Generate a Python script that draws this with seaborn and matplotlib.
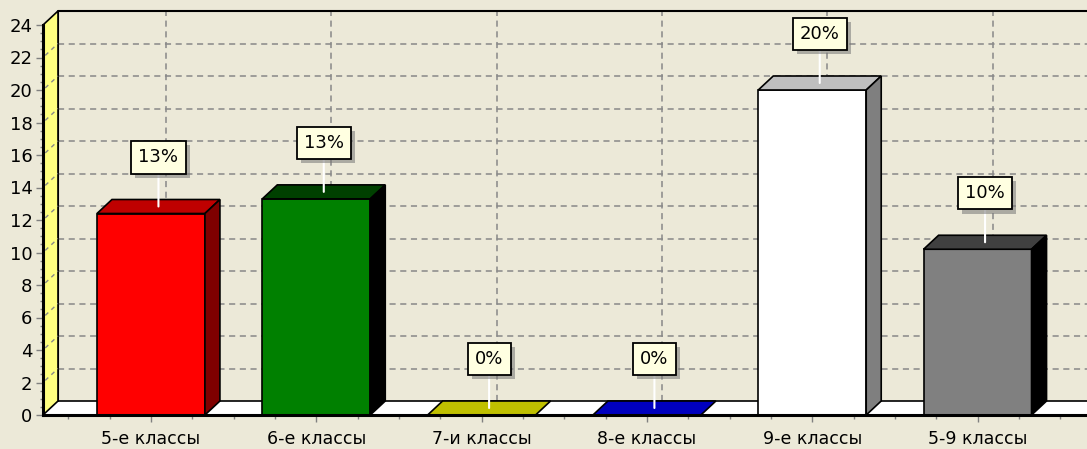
import numpy as np
import matplotlib
matplotlib.use("Agg")
import matplotlib.pyplot as plt
import matplotlib.patheffects as pe
from matplotlib.patches import Polygon, Rectangle
from matplotlib.ticker import MultipleLocator
from matplotlib.colors import to_rgb
import seaborn as sns

# ---- data ----
categories = ["5-е классы", "6-е классы", "7-и классы", "8-е классы", "9-е классы", "5-9 классы"]
values = [12.4, 13.3, 0, 0, 20.0, 10.2]
value_labels = ["13%", "13%", "0%", "0%", "20%", "10%"]
front_colors = ["#FF0000", "#008000", "#FFFF40", "#0000FF", "#FFFFFF", "#808080"]
y_ticks = list(range(0, 25, 2))

BG = "#ECE9D8"
W, H, DPI = 1087, 449, 100

sns.set_style("white")
plt.rcParams["font.family"] = ["DejaVu Sans"]
plt.rcParams["text.color"] = "black"
plt.rcParams["xtick.labelcolor"] = "black"
plt.rcParams["ytick.labelcolor"] = "black"

fig = plt.figure(figsize=(W / DPI, H / DPI), dpi=DPI, facecolor=BG)
ax = fig.add_axes([43 / W, 34 / H, 1044 / W, 390 / H])
ax.set_facecolor(BG)

sns.barplot(x=categories, y=values, hue=categories, palette=front_colors,
            width=0.653, saturation=1, legend=False, ax=ax,
            edgecolor="black", linewidth=1.2, zorder=3)
bars = sorted([p for p in ax.patches if isinstance(p, Rectangle)], key=lambda p: p.get_x())

XMIN, XMAX = -0.653, 5.662
YMIN, YMAX = 0, 24
ax.set_xlim(XMIN, XMAX)
ax.set_ylim(YMIN, YMAX)

# depth in data units (15 px horizontally, 14 px vertically)
px_x = 1044 / (XMAX - XMIN)
px_y = 390 / (YMAX - YMIN)
dx = 15 / px_x
dy = 14 / px_y

grid_kw = dict(color="#888888", linestyle=(0, (4, 3)), linewidth=1.1, zorder=1, clip_on=False)

# back-wall horizontal grid lines
for v in y_ticks[1:-1]:
    ax.plot([XMIN + dx, XMAX], [v + dy, v + dy], **grid_kw)
# back-wall vertical grid lines
for i in range(len(categories)):
    ax.plot([i + dx, i + dx], [dy, YMAX + dy], **grid_kw)

# back wall outline
ax.plot([XMIN + dx, XMIN + dx, XMAX + 1], [dy, YMAX + dy, YMAX + dy],
        color="black", linewidth=1.5, zorder=1.6, clip_on=False)

# floor
floor = Polygon([(XMIN, 0), (XMAX + 1, 0), (XMAX + 1 + dx, dy), (XMIN + dx, dy)],
                closed=True, facecolor="white", edgecolor="none", zorder=1.5, clip_on=False)
ax.add_patch(floor)
ax.plot([XMIN + dx, XMAX + 1], [dy, dy], color="black", linewidth=1.2, zorder=1.55, clip_on=False)

# yellow side wall
side_wall = Polygon([(XMIN, 0), (XMIN, YMAX), (XMIN + dx, YMAX + dy), (XMIN + dx, dy)],
                    closed=True, facecolor="#FFFF80", edgecolor="black", linewidth=1.2,
                    zorder=2, clip_on=False)
ax.add_patch(side_wall)
for v in y_ticks[1:-1]:
    ax.plot([XMIN + 0.15 * dx, XMIN + dx], [v + 0.15 * dy, v + dy],
            color="#888888", linestyle=(0, (3, 3)), linewidth=1.0, zorder=2.1, clip_on=False)


def shade(c, amt):
    r, g, b = to_rgb(c)
    return (max(r - amt, 0), max(g - amt, 0), max(b - amt, 0))


for p, col, lab in zip(bars, front_colors, value_labels):
    x0, w, h = p.get_x(), p.get_width(), p.get_height()
    top = Polygon([(x0, h), (x0 + w, h), (x0 + w + dx, h + dy), (x0 + dx, h + dy)],
                  closed=True, facecolor=shade(col, 64 / 255), edgecolor="black",
                  linewidth=1.2, zorder=3, clip_on=False)
    ax.add_patch(top)
    if h > 0:
        side = Polygon([(x0 + w, 0), (x0 + w + dx, dy), (x0 + w + dx, h + dy), (x0 + w, h)],
                       closed=True, facecolor=shade(col, 128 / 255), edgecolor="black",
                       linewidth=1.2, zorder=3, clip_on=False)
        ax.add_patch(side)
    cx = x0 + w / 2 + dx / 2
    t = ax.annotate(lab, xy=(cx, h + dy / 2), xytext=(0, 49), textcoords="offset pixels",
                    ha="center", va="center", fontsize=13, color="black", zorder=6,
                    bbox=dict(boxstyle="square,pad=0.4", fc="#FFFFE1", ec="black", lw=1.3),
                    arrowprops=dict(arrowstyle="-", color="white", lw=1.5,
                                    shrinkA=0, shrinkB=0))
    t.get_bbox_patch().set_path_effects([
        pe.SimplePatchShadow(offset=(3, -3), shadow_rgbFace="#777777", alpha=0.55),
        pe.Normal()])

# axes styling
for s in ["top", "right"]:
    ax.spines[s].set_visible(False)
ax.spines["left"].set_color("black")
ax.spines["left"].set_linewidth(2.2)
ax.spines["bottom"].set_color("black")
ax.spines["bottom"].set_linewidth(2.2)
ax.spines["left"].set_zorder(4)
ax.spines["bottom"].set_zorder(4)

ax.set_yticks(y_ticks)
ax.yaxis.set_minor_locator(MultipleLocator(0.5))
ax.xaxis.set_minor_locator(MultipleLocator(0.25))
ax.tick_params(axis="y", which="major", length=5, width=1, color="#808080",
               labelsize=13, labelcolor="black", pad=2.5, left=True)
ax.tick_params(axis="y", which="minor", length=2, width=1, color="#808080", left=True)
ax.tick_params(axis="x", which="major", length=5, width=1, color="#808080",
               labelsize=12.5, labelcolor="black", pad=6, bottom=True)
ax.tick_params(axis="x", which="minor", length=3, width=1, color="#808080", bottom=True)
ax.set_xlabel("")
ax.set_ylabel("")

fig.savefig("out.png", dpi=DPI, facecolor=BG)
